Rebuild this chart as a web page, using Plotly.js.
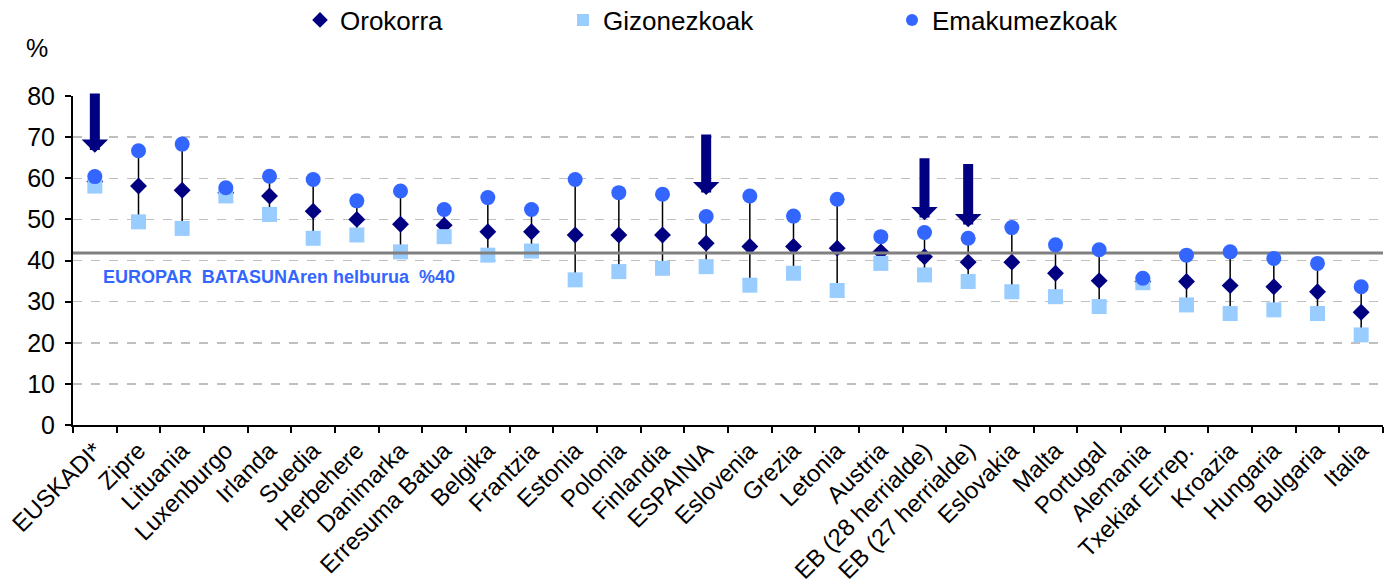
<!DOCTYPE html>
<html>
<head>
<meta charset="utf-8">
<script src="https://cdn.plot.ly/plotly-3.0.1.min.js"></script>
<style>html,body{margin:0;padding:0;background:#fff;}#chart{width:1392px;height:585px;}</style>
</head>
<body>
<div id="chart"></div>
<script>
// ---- data ----
const categories = ["EUSKADI*","Zipre","Lituania","Luxenburgo","Irlanda","Suedia","Herbehere","Danimarka","Erresuma Batua","Belgika","Frantzia","Estonia","Polonia","Finlandia","ESPAINIA","Eslovenia","Grezia","Letonia","Austria","EB (28 herrialde)","EB (27 herrialde)","Eslovakia","Malta","Portugal","Alemania","Txekiar Errep.","Kroazia","Hungaria","Bulgaria","Italia"];
const orokorra =     [59.2, 58.1, 57.1, 56.5, 55.7, 52.0, 50.0, 48.8, 48.6, 47.0, 47.0, 46.2, 46.2, 46.2, 44.2, 43.4, 43.4, 43.0, 42.1, 40.9, 39.6, 39.6, 36.9, 35.1, 34.9, 34.9, 33.9, 33.6, 32.4, 27.4];
const gizonezkoak =  [58.1, 49.4, 47.8, 55.7, 51.2, 45.4, 46.2, 42.1, 45.8, 41.3, 42.3, 35.3, 37.3, 38.1, 38.5, 34.0, 36.9, 32.7, 39.3, 36.5, 34.9, 32.4, 31.2, 28.8, 34.6, 29.2, 27.1, 28.0, 27.1, 21.9];
const emakumezkoak = [60.4, 66.7, 68.3, 57.7, 60.5, 59.7, 54.5, 56.9, 52.4, 55.3, 52.4, 59.7, 56.5, 56.1, 50.7, 55.7, 50.8, 54.9, 45.8, 46.8, 45.4, 48.0, 43.8, 42.6, 35.7, 41.3, 42.1, 40.5, 39.3, 33.6];
const seriesNames = ["Orokorra", "Gizonezkoak", "Emakumezkoak"];
const targetValue = 41.8;
const targetLabel = "EUROPAR  BATASUNAren helburua  %40";
const arrowCategories = ["EUSKADI*", "ESPAINIA", "EB (28 herrialde)", "EB (27 herrialde)"];
const arrowTips  = [66.2, 55.9, 49.8, 48.1];
const arrowTails = [81.0, 71.0, 65.2, 63.8];
const yTickVals = [0, 10, 20, 30, 40, 50, 60, 70, 80];

// ---- build ----
const FONT = "Liberation Sans, Arial, sans-serif";
const n = categories.length;
const xRange = [-0.5, n - 0.5];
const idx = categories.map((c, i) => i);
const hlx = [], hly = [];
categories.forEach((c, i) => {
  const vals = [orokorra[i], gizonezkoak[i], emakumezkoak[i]];
  hlx.push(c, c, null);
  hly.push(Math.max(...vals), Math.min(...vals), null);
});

const traces = [
  {x: hlx, y: hly, type: "scatter", mode: "lines", line: {color: "#000000", width: 1.5},
   showlegend: false, hoverinfo: "skip", connectgaps: false},
  {x: categories, y: orokorra, name: seriesNames[0], type: "scatter", mode: "markers",
   marker: {symbol: "diamond", size: 13, color: "#000080"}, legend: "legend"},
  {x: categories, y: gizonezkoak, name: seriesNames[1], type: "scatter", mode: "markers",
   marker: {symbol: "square", size: 15, color: "#99CCFF"}, legend: "legend2"},
  // target line on an overlaying numeric axis so it spans the full plot width
  {x: xRange, y: [targetValue, targetValue], xaxis: "x2", yaxis: "y", type: "scatter", mode: "lines",
   line: {color: "#808080", width: 3}, showlegend: false, hoverinfo: "skip", cliponaxis: false},
  {x: idx, y: emakumezkoak, xaxis: "x2", yaxis: "y", name: seriesNames[2], type: "scatter", mode: "markers",
   marker: {symbol: "circle", size: 15, color: "#3366FF"}, legend: "legend3"}
];

const annotations = arrowCategories.map((c, i) => ({
  x: c, y: arrowTips[i], ax: c, ay: arrowTails[i], xref: "x", yref: "y", axref: "x", ayref: "y",
  text: "", showarrow: true, arrowhead: 1, arrowsize: 0.44, arrowwidth: 10, arrowcolor: "#000080", standoff: 0
}));
annotations.push({
  x: 0, y: 1, xref: "paper", yref: "paper", xanchor: "center", yanchor: "middle",
  xshift: -36, yshift: 48, text: "%", showarrow: false, font: {family: FONT, size: 25, color: "#000"}
});
annotations.push({
  x: 0, y: 36, xref: "paper", yref: "y", xanchor: "left", yanchor: "middle", xshift: 28,
  text: "<b>" + targetLabel + "</b>", showarrow: false, font: {family: FONT, size: 18, color: "#3366FF"}
});

const legendBase = {orientation: "h", xref: "container", yref: "container", xanchor: "left", yanchor: "middle",
  y: 1 - 20/585, font: {family: FONT, size: 26, color: "#000"}, itemsizing: "constant",
  bgcolor: "rgba(0,0,0,0)", borderwidth: 0};

const layout = {
  width: 1392, height: 585,
  margin: {l: 73, r: 9, t: 96, b: 160},
  paper_bgcolor: "#fff", plot_bgcolor: "#fff",
  font: {family: FONT, color: "#000"},
  showlegend: true,
  legend: Object.assign({}, legendBase, {x: 300/1392}),
  legend2: Object.assign({}, legendBase, {x: 563/1392}),
  legend3: Object.assign({}, legendBase, {x: 892/1392}),
  xaxis: {type: "category", range: xRange, showline: true, linecolor: "#000", linewidth: 2,
    ticks: "outside", tickson: "boundaries", ticklen: 6, tickwidth: 2, tickcolor: "#000",
    tickangle: -45, tickfont: {family: FONT, size: 24, color: "#000"}, showgrid: false, zeroline: false},
  xaxis2: {type: "linear", range: xRange, overlaying: "x", visible: false, showgrid: false, zeroline: false},
  yaxis: {range: [0, 80], tickvals: yTickVals, showline: true, linecolor: "#000", linewidth: 2,
    ticks: "outside", ticklen: 6, tickwidth: 2, tickcolor: "#000", ticklabelstandoff: 5,
    tickfont: {family: FONT, size: 25, color: "#000"},
    showgrid: true, gridcolor: "#BFBFBF", gridwidth: 1.5, griddash: "dash", zeroline: false},
  annotations: annotations
};

Plotly.newPlot("chart", traces, layout, {displayModeBar: false, staticPlot: true});
</script>
</body>
</html>
